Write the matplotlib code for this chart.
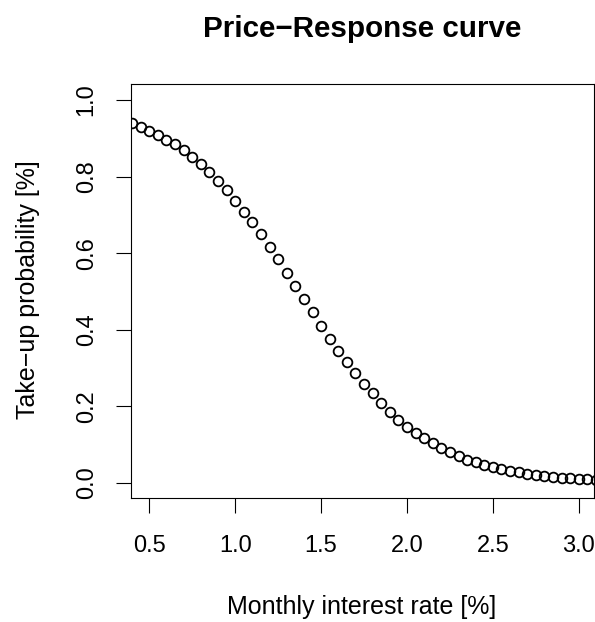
import numpy as np
import matplotlib.pyplot as plt

plt.rcParams['font.family'] = ['Liberation Sans', 'DejaVu Sans']

# monthly interest rate [%] and take-up probability
rate = [0.40, 0.45, 0.50, 0.55, 0.60, 0.65, 0.70, 0.75, 0.80, 0.85,
        0.90, 0.95, 1.00, 1.05, 1.10, 1.15, 1.20, 1.25, 1.30, 1.35,
        1.40, 1.45, 1.50, 1.55, 1.60, 1.65, 1.70, 1.75, 1.80, 1.85,
        1.90, 1.95, 2.00, 2.05, 2.10, 2.15, 2.20, 2.25, 2.30, 2.35,
        2.40, 2.45, 2.50, 2.55, 2.60, 2.65, 2.70, 2.75, 2.80, 2.85,
        2.90, 2.95, 3.00, 3.05, 3.10]
takeup = [0.939, 0.929, 0.919, 0.908, 0.896, 0.884, 0.869, 0.852, 0.832, 0.811,
          0.789, 0.764, 0.737, 0.708, 0.680, 0.649, 0.617, 0.585, 0.549, 0.514,
          0.480, 0.445, 0.409, 0.376, 0.345, 0.315, 0.286, 0.258, 0.234, 0.209,
          0.186, 0.165, 0.146, 0.130, 0.116, 0.103, 0.091, 0.079, 0.069, 0.060,
          0.053, 0.046, 0.040, 0.035, 0.030, 0.027, 0.023, 0.020, 0.018, 0.015,
          0.013, 0.012, 0.010, 0.009, 0.008]

xticks = [0.5, 1.0, 1.5, 2.0, 2.5, 3.0]
yticks = [0.0, 0.2, 0.4, 0.6, 0.8, 1.0]

W, H = 595, 622
fig = plt.figure(figsize=(W / 100, H / 100), dpi=100)
ax = fig.add_axes([131 / W, 124 / H, 463 / W, 414 / H])

ax.plot(rate, takeup, linestyle='none', marker='o', markersize=7.0,
        markerfacecolor='none', markeredgecolor='black', markeredgewidth=1.3)

ax.set_xlim(0.3935, 3.0885)
ax.set_ylim(-0.040, 1.0418)
ax.set_xticks(xticks)
ax.set_xticklabels([f'{t:.1f}' for t in xticks])
ax.set_yticks(yticks)
ax.set_yticklabels([f'{t:.1f}' for t in yticks], rotation=90, va='center')

ax.tick_params(axis='both', direction='out', length=11, width=0.8,
               labelsize=17, color='black')
ax.tick_params(axis='x', pad=15.5)
ax.tick_params(axis='y', pad=13)
for s in ax.spines.values():
    s.set_linewidth(0.8)

fig.text(362 / W, 1 - 29 / H, 'Price\u2212Response curve', ha='center',
         va='center', fontsize=21.3, fontweight='bold')
fig.text(362 / W, 1 - 607 / H, 'Monthly interest rate [%]', ha='center',
         va='center', fontsize=18)
fig.text(28 / W, 1 - 290 / H, 'Take\u2212up probability [%]', ha='center',
         va='center', rotation=90, fontsize=18)

fig.savefig('out.png', dpi=100)
